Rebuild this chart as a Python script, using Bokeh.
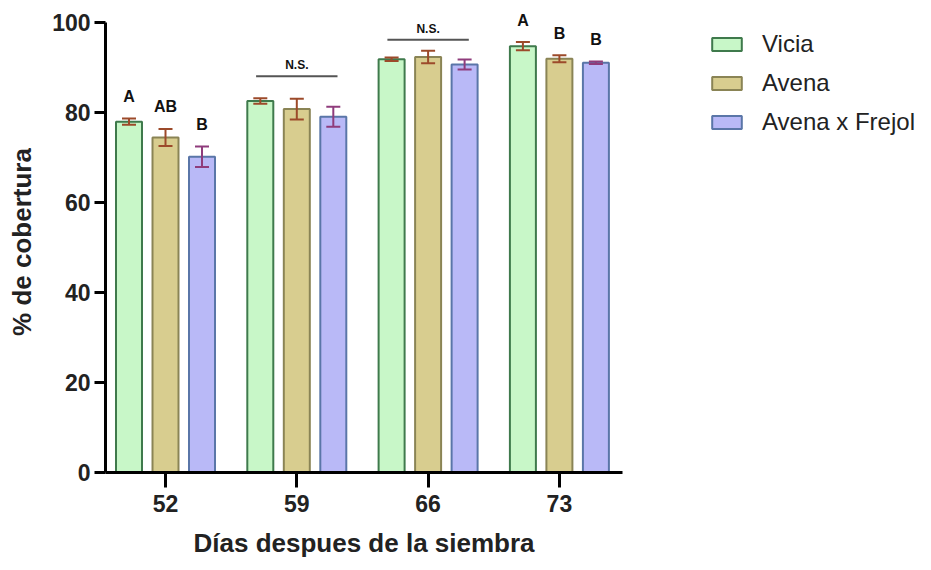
from bokeh.plotting import figure
from bokeh.models import Range1d, FixedTicker, Legend, LegendItem, ColumnDataSource, Whisker, TeeHead, Title
from bokeh.core.properties import value
from bokeh.embed import file_html
from bokeh.resources import INLINE

days = ["52", "59", "66", "73"]
series = ["Vicia", "Avena", "Avena x Frejol"]
vicia = [78.0, 82.6, 91.9, 94.8]
vicia_err = [0.7, 0.6, 0.4, 0.9]
avena = [74.5, 80.8, 92.4, 92.0]
avena_err = [1.9, 2.3, 1.4, 0.8]
frejol = [70.2, 79.1, 90.7, 91.1]
frejol_err = [2.3, 2.2, 1.1, 0.3]
letters_vicia = ["A", "", "", "A"]
letters_avena = ["AB", "", "", "B"]
letters_frejol = ["B", "", "", "B"]
ns_groups = [1, 2]
ns_level = [88.1, 96.2]
x_title = "Días despues de la siembra"
y_title = "% de cobertura"

FONT = "Liberation Sans"
fills = ["#c8f7c8", "#d8cd8f", "#b9b9f7"]
lines = ["#3f7a4c", "#8a8455", "#5a76a8"]
errc = ["#9c4a2a", "#9c4a2a", "#8f3c7c"]
offsets = [-0.278, 0.0, 0.278]
width = 0.198

p = figure(width=923, height=562, output_backend="svg", toolbar_location=None,
           x_range=Range1d(-0.457, 5.773), y_range=Range1d(0, 102.5),
           min_border_left=105, min_border_right=0, min_border_top=11, min_border_bottom=90)
p.outline_line_color = None
p.grid.visible = False
p.background_fill_color = "white"

vals = [vicia, avena, frejol]
errs = [vicia_err, avena_err, frejol_err]
lets = [letters_vicia, letters_avena, letters_frejol]
items = []
for i in range(3):
    xs = [g + offsets[i] for g in range(len(days))]
    src = ColumnDataSource(dict(x=xs, top=vals[i],
                                lo=[v - e for v, e in zip(vals[i], errs[i])],
                                hi=[v + e for v, e in zip(vals[i], errs[i])],
                                ly=[v + e + 3.0 for v, e in zip(vals[i], errs[i])],
                                lt=lets[i]))
    r = p.vbar(x="x", top="top", bottom=0, width=width, source=src,
               fill_color=fills[i], line_color=lines[i], line_width=2)
    items.append(LegendItem(label=series[i], renderers=[r]))
    w = Whisker(base="x", upper="hi", lower="lo", source=src, line_color=errc[i], line_width=2,
                level="annotation",
                upper_head=TeeHead(size=14, line_color=errc[i], line_width=2),
                lower_head=TeeHead(size=14, line_color=errc[i], line_width=2))
    p.add_layout(w)
    p.text(x="x", y="ly", text="lt", source=src, text_align="center", text_baseline="bottom",
           text_font=value(FONT), text_font_style="bold", text_font_size="16px", text_color="#111111")

ns_src = ColumnDataSource(dict(x0=[g - 0.31 for g in ns_groups], x1=[g + 0.31 for g in ns_groups],
                               y=ns_level, xc=ns_groups, yt=[y + 0.9 for y in ns_level],
                               t=["N.S."] * len(ns_groups)))
p.segment(x0="x0", y0="y", x1="x1", y1="y", source=ns_src, line_color="#555555", line_width=2)
p.text(x="xc", y="yt", text="t", source=ns_src, text_align="center", text_baseline="bottom",
       text_font=value(FONT), text_font_style="bold", text_font_size="12px", text_color="#111111")

# axes
p.yaxis.ticker = FixedTicker(ticks=[0, 20, 40, 60, 80, 100])
p.yaxis.bounds = (0, 100)
p.xaxis.ticker = FixedTicker(ticks=list(range(len(days))))
p.xaxis.bounds = (-0.457, 3.48)
p.xaxis.major_label_overrides = {i: d for i, d in enumerate(days)}
for ax in (p.xaxis, p.yaxis):
    ax.axis_line_width = 3
    ax.axis_line_color = "black"
    ax.major_tick_line_width = 3
    ax.major_tick_line_color = "black"
    ax.minor_tick_line_color = None
    ax.major_tick_in = 0
    ax.major_label_text_font = FONT
    ax.major_label_text_font_style = "bold"
    ax.major_label_text_font_size = "23px"
    ax.major_label_text_color = "#222222"
    ax.axis_label_text_font = FONT
    ax.axis_label_text_font_style = "bold"
    ax.axis_label_text_font_size = "26px"
    ax.axis_label_text_color = "#222222"
p.yaxis.major_tick_out = 11
p.xaxis.major_tick_out = 15
p.yaxis.major_label_standoff = 4
p.xaxis.major_label_standoff = 7
p.yaxis.axis_label = y_title
p.yaxis.axis_label_standoff = 12
# small blank spacer label to push the title down a little
p.xaxis.axis_label = " "
p.xaxis.axis_label_text_font_size = "6px"
p.xaxis.axis_label_standoff = 0

xt = Title(text=x_title, align="left", offset=88, standoff=4,
           text_font=FONT, text_font_style="bold", text_font_size="26px", text_color="#222222")
p.add_layout(xt, "below")

legend = Legend(items=items, location=(603, 336), orientation="vertical",
                glyph_width=37, glyph_height=16, label_standoff=17, spacing=11,
                padding=0, margin=0, border_line_color=None, background_fill_alpha=0,
                label_text_font=FONT, label_text_font_size="24px", label_text_color="#222222")
p.add_layout(legend)

open("out.html", "w").write(file_html(p, INLINE))
